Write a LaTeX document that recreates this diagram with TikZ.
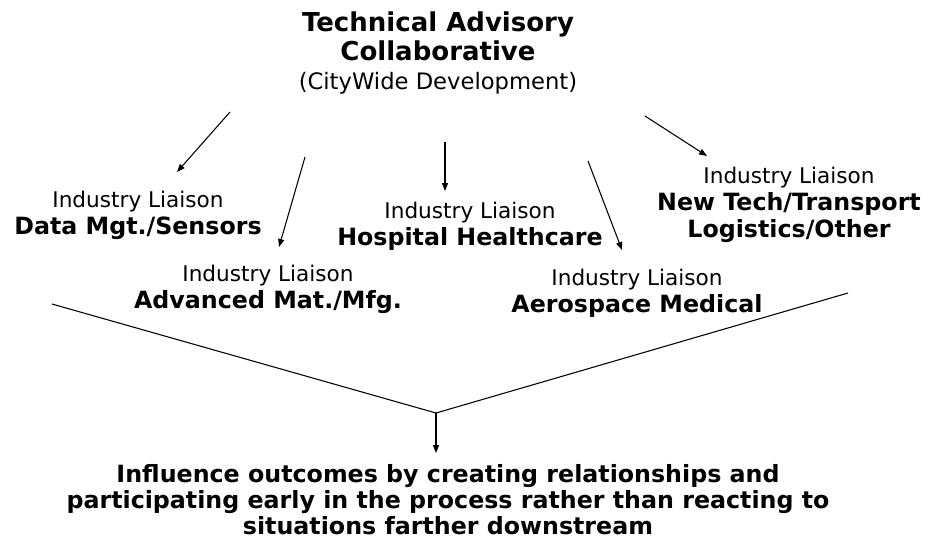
\documentclass[tikz,border=0pt]{standalone}
\usepackage{fontspec}
\setmainfont{DejaVu Sans}
\usetikzlibrary{arrows.meta}
\newcommand\rgf{\fontsize{16.2}{20.25}\selectfont\mdseries}
\newcommand\bdf{\fontsize{17.8}{20.25}\selectfont\bfseries}
\newcommand\outf{\fontsize{17.8}{19.6}\selectfont\bfseries}
\newcommand\ttlf{\fontsize{19.5}{21.4}\selectfont\bfseries}
\newcommand\subf{\fontsize{17}{21.4}\selectfont\mdseries}
\begin{document}
\begin{tikzpicture}[x=0.75pt,y=-0.75pt,
  txt/.style={align=center, inner sep=0pt, font=\rgf},
  arr/.style={line width=0.8pt, -{Triangle[length=6pt,width=4.5pt]}},
  ln/.style={line width=0.8pt}]
\useasboundingbox (0,0) rectangle (930,537);
\node[txt, font=\ttlf] (tac) at (438,53)
  {Technical Advisory\\ Collaborative\\ \subf (CityWide Development)};
\node[txt] (data) at (138,215) {Industry Liaison\\ \bdf Data Mgt./Sensors};
\node[txt] (adv) at (268,289) {Industry Liaison\\ \bdf Advanced Mat./Mfg.};
\node[txt] (hosp) at (470,226) {Industry Liaison\\ \bdf Hospital Healthcare};
\node[txt] (aero) at (637,293.5) {Industry Liaison\\ \bdf Aerospace Medical};
\node[txt] (newt) at (789,204.5) {Industry Liaison\\ \bdf New Tech/Transport\\ \bdf Logistics/Other};
\node[txt, font=\outf] (out) at (448,499.5)
  {Influence outcomes by creating relationships and\\
   participating early in the process rather than reacting to\\
   situations farther downstream};
% connector end points
\coordinate (s1) at (230,112); \coordinate (e1) at (177,172);
\coordinate (s2) at (305,157); \coordinate (e2) at (279,247);
\coordinate (s3) at (445,142); \coordinate (e3) at (445,191);
\coordinate (s4) at (588,161); \coordinate (e4) at (622,250);
\coordinate (s5) at (645,116); \coordinate (e5) at (707,156);
\coordinate (vl) at (52,304); \coordinate (vm) at (436,413); \coordinate (vr) at (848,293);
\coordinate (vd) at (436,453);
\draw[arr] (s1) -- (e1);
\draw[arr] (s2) -- (e2);
\draw[arr] (s3) -- (e3);
\draw[arr] (s4) -- (e4);
\draw[arr] (s5) -- (e5);
\draw[ln] (vl) -- (vm) -- (vr);
\draw[arr] (vm) -- (vd);
\end{tikzpicture}
\end{document}
